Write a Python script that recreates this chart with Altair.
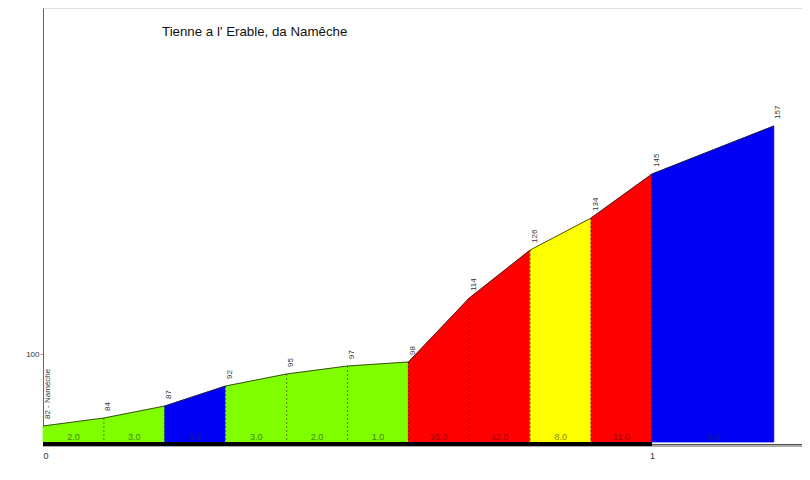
import altair as alt
import pandas as pd

# ---- data ----
km = [0.0, 0.1, 0.2, 0.3, 0.4, 0.5, 0.6, 0.7, 0.8, 0.9, 1.0, 1.2]
elev = [82, 84, 87, 92, 95, 97, 98, 114, 126, 134, 145, 157]
point_labels = ["82 - Naméche", "84", "87", "92", "95", "97", "98", "114", "126", "134", "145", "157"]
grad_labels = ["2.0", "3.0", "5.0", "3.0", "2.0", "1.0", "16.0", "12.0", "8.0", "11.0", "6.0"]
seg_fill = ["#80ff00", "#80ff00", "#0000f4", "#80ff00", "#80ff00", "#80ff00",
            "#ff0000", "#ff0000", "#ffff00", "#ff0000", "#0000f4"]
seg_text = ["#3a8a00", "#3a8a00", "#1a1a90", "#3a8a00", "#3a8a00", "#3a8a00",
            "#a00000", "#a00000", "#8a8a00", "#a00000", "#1a1a90"]
title_text = "Tienne a l' Erable, da Namêche"
x_ticks = [0, 1]
y_ticks = [100]
base = 78

W, H = 759, 438
XMAX = W / 609.0
FONT = "Liberation Sans"

rows = []
for i in range(len(km) - 1):
    for j in (i, i + 1):
        rows.append({"seg": i, "km": km[j], "elev": elev[j], "fill": seg_fill[i]})
area_df = pd.DataFrame(rows)
pts_df = pd.DataFrame({"km": km, "elev": elev, "lab": point_labels})
mid_df = pd.DataFrame({
    "km": [(km[i] + km[i + 1]) / 2 for i in range(len(km) - 1)],
    "lab": grad_labels, "tc": seg_text,
})
bnd_df = pd.DataFrame({"km": km[1:-1], "elev": elev[1:-1]})

xs = alt.Scale(domain=[0, XMAX], nice=False, zero=False)
ys = alt.Scale(domain=[77, 186.5], nice=False, zero=False)

X = alt.X("km:Q", scale=xs, axis=alt.Axis(values=x_ticks, title=None, grid=False, ticks=False,
                                          labelFontSize=9, labelColor="#333", labelFont=FONT,
                                          labelPadding=5, domainColor="#aaaaaa", format="d"))
Y = alt.Y("elev:Q", scale=ys, axis=alt.Axis(values=y_ticks, title=None, grid=False, tickSize=3,
                                            tickColor="#e08080", labelFontSize=8, labelColor="#333",
                                            labelFont=FONT, labelPadding=1, domainColor="#666"))

areas = alt.Chart(area_df).mark_area(strokeWidth=0.8).encode(
    x=X, y=Y, y2=alt.datum(base),
    color=alt.Color("fill:N", scale=None),
    stroke=alt.Stroke("fill:N", scale=None),
    detail="seg:N",
)

dashes = alt.Chart(bnd_df).mark_rule(color="black", opacity=0.45, strokeDash=[2, 2], strokeWidth=1).encode(
    x=alt.X("km:Q", scale=xs), y=alt.Y("elev:Q", scale=ys), y2=alt.datum(base),
)

profile = alt.Chart(pts_df).mark_line(color="#222", strokeWidth=1, opacity=0.8).encode(
    x=alt.X("km:Q", scale=xs), y=alt.Y("elev:Q", scale=ys),
)

bar = alt.Chart(pd.DataFrame({"a": [0], "b": [1]})).mark_rect(color="black").encode(
    x=alt.X("a:Q", scale=xs), x2="b:Q", y=alt.datum(77), y2=alt.datum(base),
)
tail = alt.Chart(pd.DataFrame({"a": [1], "b": [XMAX]})).mark_rule(color="black", strokeWidth=1).encode(
    x=alt.X("a:Q", scale=xs), x2="b:Q", y=alt.datum(77.3),
)

plabels = alt.Chart(pts_df).mark_text(angle=270, align="left", baseline="middle", dx=7, dy=4.5,
                                      fontSize=8, font=FONT, color="#333").encode(
    x=alt.X("km:Q", scale=xs), y=alt.Y("elev:Q", scale=ys), text="lab:N",
)

glabels = alt.Chart(mid_df).mark_text(baseline="middle", fontSize=9, font=FONT).encode(
    x=alt.X("km:Q", scale=xs), y=alt.datum(79.3), text="lab:N",
    color=alt.Color("tc:N", scale=None),
)

title = alt.Chart(pd.DataFrame({"t": [title_text]})).mark_text(
    align="left", baseline="middle", fontSize=13.3, font=FONT, color="#111").encode(
    x=alt.value(119), y=alt.value(24), text="t:N",
)

chart = alt.layer(areas, dashes, profile, bar, tail, plabels, glabels, title).properties(
    width=W, height=H,
    autosize=alt.AutoSizeParams(type="none"),
    padding={"left": 35, "top": 0, "right": 0, "bottom": 20},
).configure_view(stroke=None).configure(background="white")

chart.save("out.html", embed_options={"renderer": "svg", "actions": False})
